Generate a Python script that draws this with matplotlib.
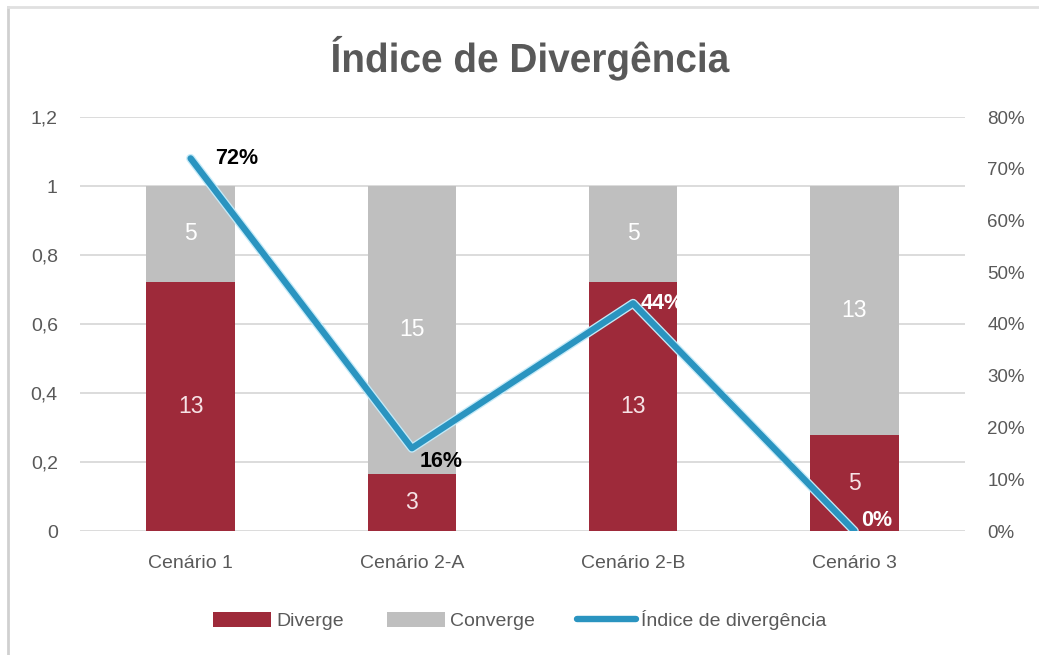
import numpy as np
import matplotlib
matplotlib.use("Agg")
import matplotlib.pyplot as plt
from matplotlib.lines import Line2D
from matplotlib.patches import Patch, PathPatch
from matplotlib.textpath import TextPath
from matplotlib.font_manager import FontProperties
from matplotlib.transforms import Affine2D
import matplotlib.patheffects as pe

# dados
cenarios = ["Cenário 1", "Cenário 2-A", "Cenário 2-B", "Cenário 3"]
diverge = [13, 3, 13, 5]
converge = [5, 15, 5, 13]
indice = [0.72, 0.16, 0.44, 0.0]
indice_labels = ["72%", "16%", "44%", "0%"]

plt.rcParams['font.family'] = ['Liberation Sans', 'DejaVu Sans']

cor_div = "#9E2A3A"
cor_conv = "#BFBFBF"
cor_linha = "#2A94C0"
cor_texto = "#595959"

W, H = 1039, 655
total = np.array(diverge) + np.array(converge)
frac_div = np.array(diverge) / total
frac_conv = np.array(converge) / total

fig = plt.figure(figsize=(W / 100, H / 100), dpi=100)
ax = fig.add_axes([80 / W, 1 - 531 / H, 885 / W, 414 / H])
ax2 = ax.twinx()

x = np.arange(len(cenarios))
ax.bar(x, frac_div, width=0.4, color=cor_div, zorder=2)
ax.bar(x, frac_conv, width=0.4, bottom=frac_div, color=cor_conv, zorder=2)

for i in range(len(x)):
    ax.text(x[i], frac_div[i] / 2, str(diverge[i]), ha="center", va="center",
            color="#F6E3E6", fontsize=16.5)
    ax.text(x[i], frac_div[i] + frac_conv[i] / 2, str(converge[i]), ha="center",
            va="center", color="white", fontsize=16.5)

ax.set_xlim(-0.5, 3.5)
ax.set_ylim(0, 1.2)
ax.set_yticks(np.arange(0, 1.21, 0.2))
ax.set_yticklabels(["0", "0,2", "0,4", "0,6", "0,8", "1", "1,2"])
ax.set_xticks(x)
ax.set_xticklabels(cenarios)
ax.grid(axis="y", color="#D9D9D9", linewidth=1.3, zorder=0)
ax.set_axisbelow(True)
for s in ax.spines.values():
    s.set_visible(False)
for s in ax2.spines.values():
    s.set_visible(False)
ax.tick_params(axis="y", length=0, colors=cor_texto, labelsize=14, pad=16)
ax.tick_params(axis="x", length=0, colors=cor_texto, labelsize=14, pad=17)

# linha do índice
ax2.plot(x, indice, color=cor_linha, linewidth=4.6, solid_capstyle="round", zorder=3,
         path_effects=[pe.Stroke(linewidth=6.5, foreground="#C4EAF8"), pe.Normal()])
ax2.set_ylim(0, 0.8)
ax2.set_yticks(np.arange(0, 0.81, 0.1))
ax2.set_yticklabels([f"{int(round(v * 100))}%" for v in np.arange(0, 0.81, 0.1)])
ax2.tick_params(length=0, colors=cor_texto, labelsize=13.5, pad=16)

offsets = [(0.11, 0.0), (0.036, -0.025), (0.036, 0.0), (0.032, 0.021)]
cores_lbl = ["black", "black", "white", "white"]
for i in range(len(x)):
    ax2.text(x[i] + offsets[i][0], indice[i] + offsets[i][1], indice_labels[i],
             ha="left", va="center", fontsize=15.5, fontweight="bold", color=cores_lbl[i],
             zorder=4)

# título (fonte condensada simulada)
tp = TextPath((0, 0), "Índice de Divergência", size=1,
              prop=FontProperties(family="Liberation Sans", weight="bold"))
bb = tp.get_extents()
cap = TextPath((0, 0), "D", size=1,
               prop=FontProperties(family="Liberation Sans", weight="bold")).get_extents()
sy = 28 / cap.height
sx = 397 / bb.width
tr = Affine2D().translate(-(bb.x0 + bb.width / 2), 0).scale(sx, sy).translate(531, H - 72)
fig.add_artist(PathPatch(tp, transform=tr, facecolor=cor_texto, edgecolor="none"))

handles = [Patch(facecolor=cor_div), Patch(facecolor=cor_conv),
           Line2D([0], [0], color=cor_linha, linewidth=4.6, solid_capstyle="round")]
fig.legend(handles, ["Diverge", "Converge", "Índice de divergência"],
           loc="center", bbox_to_anchor=(0.5, 1 - 620 / H), ncol=3, frameon=False,
           fontsize=14, labelcolor=cor_texto, handlelength=3.0, handleheight=0.8,
           columnspacing=2.2, handletextpad=0.25)

# moldura
fig.add_artist(Line2D([8 / W, 8 / W], [0, 1 - 7 / H], transform=fig.transFigure,
                      color="#D0D0D0", linewidth=2))
fig.add_artist(Line2D([8 / W, 1], [1 - 7 / H, 1 - 7 / H], transform=fig.transFigure,
                      color="#E0E0E0", linewidth=2))

fig.savefig("out.png", dpi=100)
